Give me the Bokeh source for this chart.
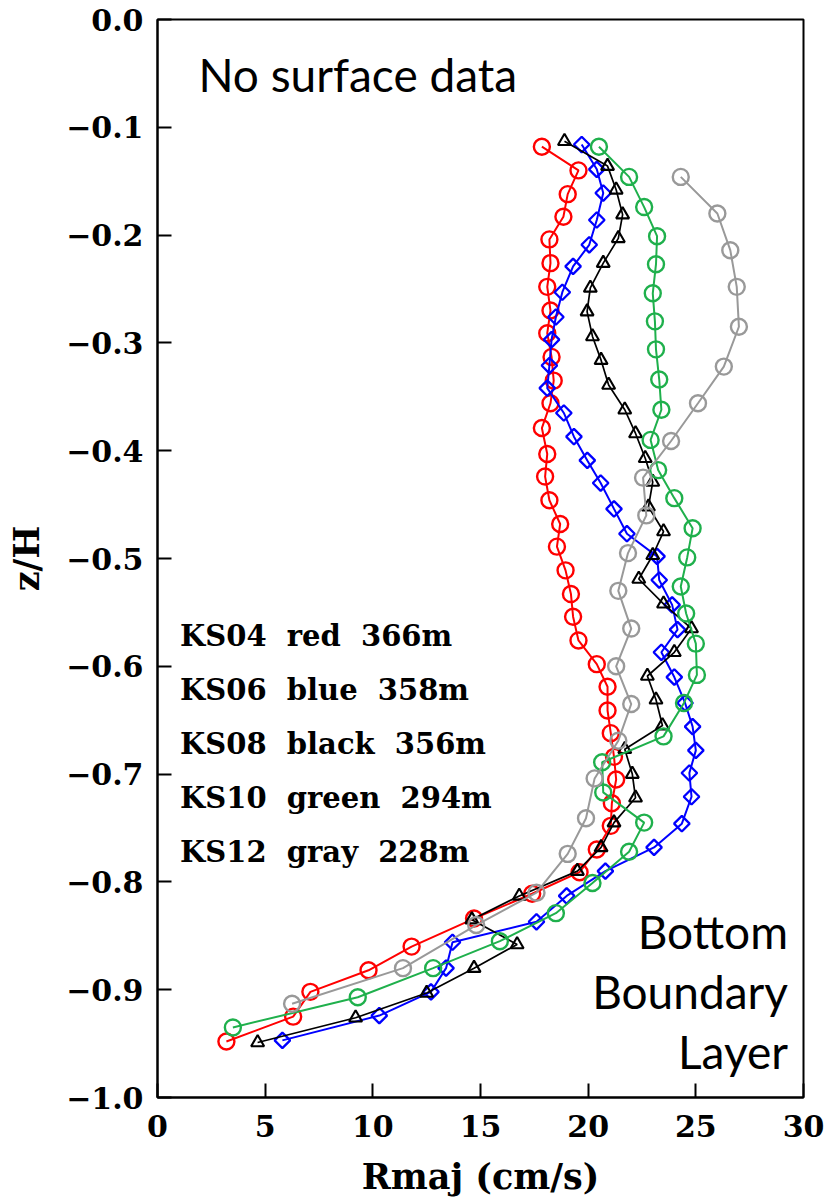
import numpy as np
from bokeh.plotting import figure
from bokeh.models import Range1d, FixedTicker, CustomJSTickFormatter, Label
from bokeh.embed import file_html
from bokeh.resources import INLINE

# ---------------- data ----------------
red_z = [-0.118, -0.140, -0.162, -0.183, -0.204, -0.226, -0.248, -0.270, -0.291, -0.313,
         -0.335, -0.356, -0.379, -0.403, -0.424, -0.446, -0.468, -0.489, -0.511, -0.533,
         -0.554, -0.576, -0.598, -0.619, -0.641, -0.662, -0.684, -0.705, -0.727, -0.748,
         -0.770, -0.791, -0.811, -0.834, -0.860, -0.882, -0.902, -0.925, -0.948]
red_x = [17.85, 19.55, 19.05, 18.85, 18.2, 18.25, 18.1, 18.25, 18.1, 18.3,
         18.4, 18.25, 17.85, 18.1, 18.0, 18.2, 18.7, 18.55, 18.95, 19.2,
         19.3, 19.55, 20.4, 20.9, 20.9, 21.05, 21.2, 21.3, 21.1, 21.05,
         20.4, 19.6, 17.4, 14.7, 11.8, 9.8, 7.1, 6.3, 3.2]

blue_z = [-0.116, -0.139, -0.161, -0.186, -0.209, -0.229, -0.253, -0.276, -0.297, -0.321,
          -0.342, -0.365, -0.387, -0.409, -0.430, -0.454, -0.477, -0.498, -0.520, -0.543,
          -0.566, -0.587, -0.610, -0.634, -0.656, -0.678, -0.699, -0.721, -0.746, -0.768,
          -0.790, -0.813, -0.837, -0.856, -0.880, -0.902, -0.924, -0.947]
blue_x = [19.7, 20.4, 20.7, 20.4, 20.05, 19.3, 18.8, 18.5, 18.3, 18.2,
          18.1, 18.87, 19.34, 19.96, 20.58, 21.2, 21.8, 23.2, 23.3, 23.9,
          24.15, 23.4, 24.0, 24.5, 24.85, 25.0, 24.7, 24.8, 24.35, 23.06,
          20.8, 19.0, 17.6, 13.7, 13.4, 12.7, 10.3, 5.8]

black_z = [-0.113, -0.136, -0.158, -0.181, -0.203, -0.226, -0.249, -0.271, -0.294, -0.316,
           -0.339, -0.362, -0.384, -0.407, -0.429, -0.452, -0.475, -0.497, -0.519, -0.542,
           -0.565, -0.587, -0.609, -0.631, -0.655, -0.677, -0.700, -0.722, -0.745, -0.768,
           -0.790, -0.813, -0.835, -0.858, -0.880, -0.903, -0.926, -0.949]
black_x = [18.9, 20.9, 21.3, 21.6, 21.4, 20.7, 20.1, 19.95, 20.2, 20.6,
           20.95, 21.7, 22.2, 22.65, 23.0, 22.8, 23.5, 23.0, 22.35, 23.5,
           24.8, 24.0, 22.75, 23.15, 23.45, 21.7, 22.05, 22.2, 21.2, 20.6,
           19.5, 16.8, 14.6, 16.7, 14.7, 12.5, 9.2, 4.65]

green_z = [-0.118, -0.146, -0.174, -0.201, -0.227, -0.254, -0.280, -0.306, -0.334, -0.362,
           -0.390, -0.418, -0.444, -0.472, -0.499, -0.526, -0.551, -0.579, -0.608, -0.634,
           -0.665, -0.689, -0.717, -0.745, -0.772, -0.801, -0.829, -0.855, -0.880, -0.907,
           -0.935]
green_x = [20.5, 21.9, 22.6, 23.2, 23.15, 23.0, 23.1, 23.15, 23.3, 23.4,
           22.9, 23.25, 24.0, 24.85, 24.6, 24.3, 24.55, 25.0, 25.05, 24.45,
           23.5, 20.65, 20.7, 22.6, 21.9, 20.2, 18.5, 15.9, 12.8, 9.3,
           3.5]

gray_z = [-0.146, -0.180, -0.214, -0.248, -0.285, -0.322, -0.356, -0.391, -0.425, -0.460,
          -0.495, -0.530, -0.565, -0.600, -0.635, -0.669, -0.704, -0.741, -0.774, -0.810,
          -0.840, -0.880, -0.913]
gray_x = [24.3, 26.0, 26.6, 26.9, 27.0, 26.3, 25.1, 23.85, 22.55, 22.7,
          21.85, 21.4, 22.0, 21.3, 22.0, 21.4, 20.3, 19.9, 19.05, 17.6,
          14.8, 11.4, 6.25]

x_ticks = [0, 5, 10, 15, 20, 25, 30]
y_ticks = [-1.0, -0.9, -0.8, -0.7, -0.6, -0.5, -0.4, -0.3, -0.2, -0.1, 0.0]

NB = "\u00a0\u00a0"
legend_lines = ["KS04" + NB + "red" + NB + "366m",
                "KS06" + NB + "blue" + NB + "358m",
                "KS08" + NB + "black" + NB + "356m",
                "KS10" + NB + "green" + NB + "294m",
                "KS12" + NB + "gray" + NB + "228m"]

RED = "#ff0000"
BLUE = "#0000ff"
BLACK = "#000000"
GREEN = "#1fb04c"
GRAY = "#999999"

SERIF = "DejaVu Serif"

# ---------------- figure ----------------
p = figure(width=829, height=1202, x_range=Range1d(0, 30), y_range=Range1d(-1.0, 0.0),
           output_backend="svg", toolbar_location=None,
           min_border_left=157, min_border_right=26, min_border_top=19, min_border_bottom=105)
p.grid.visible = False
p.outline_line_color = "black"
p.outline_line_width = 2
p.background_fill_color = "white"
p.border_fill_color = "white"

for ax in (p.xaxis[0], p.yaxis[0]):
    ax.major_tick_in = 14
    ax.major_tick_out = 0
    ax.minor_tick_line_color = None
    ax.major_tick_line_width = 2
    ax.axis_line_width = 2
    ax.major_label_text_font = SERIF
    ax.major_label_text_font_style = "bold"
    ax.major_label_text_font_size = "30px"
    ax.major_label_text_color = "black"
    ax.axis_label_text_font = SERIF
    ax.axis_label_text_font_style = "bold"
    ax.axis_label_text_font_size = "35px"
    ax.axis_label_text_color = "black"

p.xaxis.ticker = FixedTicker(ticks=x_ticks)
p.yaxis.ticker = FixedTicker(ticks=y_ticks)
p.yaxis.formatter = CustomJSTickFormatter(code="return tick.toFixed(1).replace('-', '\u2212');")
p.xaxis.formatter = CustomJSTickFormatter(code="return tick.toFixed(0);")
p.xaxis.major_label_standoff = 17
p.yaxis.major_label_standoff = 14
p.xaxis.axis_label = "Rmaj (cm/s)"
p.yaxis.axis_label = "z/H"
p.xaxis.axis_label_standoff = 16
p.yaxis.axis_label_standoff = 16

# ---------------- series ----------------
def series(xs, zs, color, marker, size, lw=2.0, mlw=2.4, angle=0.0):
    p.line(xs, zs, line_color=color, line_width=lw)
    p.scatter(xs, zs, marker=marker, size=size, line_color=color, line_width=mlw,
              fill_alpha=0, angle=angle)

series(red_x, red_z, RED, "circle", 16)
series(blue_x, blue_z, BLUE, "square", 11, mlw=2.3, angle=np.pi / 4)
series(black_x, black_z, BLACK, "triangle", 13, lw=1.7, mlw=2.1)
series(green_x, green_z, GREEN, "circle", 16)
series(gray_x, gray_z, GRAY, "circle", 16)

# ---------------- texts ----------------
leg_y = [-0.572, -0.622, -0.672, -0.722, -0.772]
for txt, yy in zip(legend_lines, leg_y):
    p.add_layout(Label(x=1.05, y=yy, text=txt, text_font=SERIF, text_font_style="bold",
                       text_font_size="29px", text_baseline="middle", text_align="left",
                       text_color="black"))

p.add_layout(Label(x=1.9, y=-0.051, text="No surface data", text_font="Lato",
                   text_font_size="46px", text_baseline="middle", text_align="left",
                   text_color="black"))
for txt, yy in zip(["Bottom", "Boundary", "Layer"], [-0.846, -0.902, -0.957]):
    p.add_layout(Label(x=29.28, y=yy, text=txt, text_font="Lato",
                       text_font_size="46px", text_baseline="middle", text_align="right",
                       text_color="black"))

open("out.html", "w").write(file_html(p, INLINE))
